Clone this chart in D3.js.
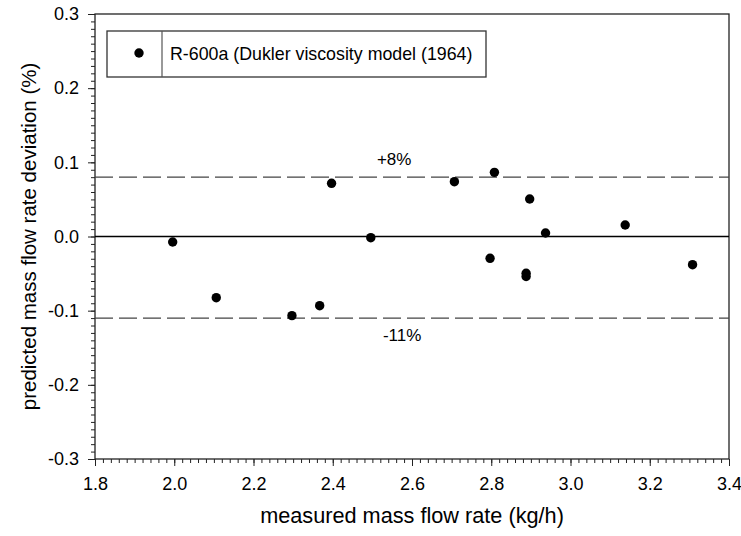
<!DOCTYPE html>
<html>
<head>
<meta charset="utf-8">
<script src="https://cdn.jsdelivr.net/npm/d3@7"></script>
<style>
  body { margin: 0; background: #fff; }
  svg text { font-family: Arial, "Liberation Sans", sans-serif; fill: #000; }
</style>
</head>
<body>
<svg id="chart" width="741" height="536"></svg>
<script>
// measured mass flow rate (kg/h)
const flowRate = [1.996, 2.106, 2.297, 2.367, 2.397, 2.496, 2.707, 2.797, 2.808, 2.888, 2.888, 2.897, 2.937, 3.138, 3.308];
// predicted deviation
const deviation = [-0.0074, -0.0825, -0.1067, -0.0933, 0.0717, -0.0016, 0.0739, -0.0294, 0.0865, -0.0496, -0.054, 0.0506, 0.0047, 0.0155, -0.038];

const xTicks = [1.8, 2.0, 2.2, 2.4, 2.6, 2.8, 3.0, 3.2, 3.4];
const yTicks = [-0.3, -0.2, -0.1, 0.0, 0.1, 0.2, 0.3];
const limits = [0.08, -0.11];
const limitLabels = ['+8%', '-11%'];
const limitLabelX = [2.555, 2.575];
const seriesName = 'R-600a (Dukler viscosity model (1964)';

const margin = {top: 14, right: 12, bottom: 77, left: 95};
const width = 741, height = 536;
const fontFam = 'Arial, "Liberation Sans", sans-serif';

const svg = d3.select('#chart');

const x = d3.scaleLinear()
  .domain([1.8, 3.4])
  .range([margin.left, width - margin.right]);

const y = d3.scaleLinear()
  .domain([-0.3, 0.3])
  .range([height - margin.bottom, margin.top]);

// plain hyphen for negatives, like the original
const fmt = v => v.toFixed(1);

// minor ticks
const xMinor = d3.range(1.8, 3.4001, 0.02).map(v => +v.toFixed(2));
const yMinor = d3.range(-0.3, 0.3001, 0.01).map(v => +v.toFixed(2));

svg.append('g')
  .attr('transform', `translate(0,${y(-0.3)})`)
  .call(d3.axisBottom(x).tickValues(xMinor).tickSize(4).tickFormat(''))
  .call(g => g.select('.domain').remove())
  .selectAll('line').attr('stroke', '#222');

svg.append('g')
  .attr('transform', `translate(${x(1.8)},0)`)
  .call(d3.axisLeft(y).tickValues(yMinor).tickSize(4).tickFormat(''))
  .call(g => g.select('.domain').remove())
  .selectAll('line').attr('stroke', '#222');

// major ticks
const xAxis = svg.append('g')
  .attr('transform', `translate(0,${y(-0.3)})`)
  .call(d3.axisBottom(x).tickValues(xTicks).tickSize(7).tickPadding(11).tickFormat(fmt));
xAxis.select('.domain').remove();
xAxis.selectAll('line').attr('stroke', '#222');
xAxis.selectAll('text').attr('font-size', 18).style('font-family', fontFam);

const yAxis = svg.append('g')
  .attr('transform', `translate(${x(1.8)},0)`)
  .call(d3.axisLeft(y).tickValues(yTicks).tickSize(7).tickPadding(9).tickFormat(fmt));
yAxis.select('.domain').remove();
yAxis.selectAll('line').attr('stroke', '#222');
yAxis.selectAll('text').attr('font-size', 18).style('font-family', fontFam);

// frame
svg.append('rect')
  .attr('x', x(1.8)).attr('y', y(0.3))
  .attr('width', x(3.4) - x(1.8)).attr('height', y(-0.3) - y(0.3))
  .attr('fill', 'none').attr('stroke', '#222').attr('stroke-width', 1.3);

// zero line
svg.append('line')
  .attr('x1', x(1.8)).attr('x2', x(3.4))
  .attr('y1', y(0)).attr('y2', y(0))
  .attr('stroke', '#000').attr('stroke-width', 1.3);

// limit lines
svg.selectAll('.limit')
  .data(limits)
  .join('line')
  .attr('class', 'limit')
  .attr('x1', x(1.8)).attr('x2', x(3.4))
  .attr('y1', d => y(d)).attr('y2', d => y(d))
  .attr('stroke', '#444').attr('stroke-width', 1.2)
  .attr('stroke-dasharray', '18,6');

svg.selectAll('.limit-label')
  .data(limits)
  .join('text')
  .attr('class', 'limit-label')
  .attr('x', (d, i) => x(limitLabelX[i]))
  .attr('y', (d, i) => i === 0 ? y(d) - 12 : y(d) + 23)
  .attr('text-anchor', 'middle')
  .attr('font-size', 17)
  .text((d, i) => limitLabels[i]);

// points
svg.selectAll('.pt')
  .data(flowRate)
  .join('circle')
  .attr('class', 'pt')
  .attr('cx', d => x(d))
  .attr('cy', (d, i) => y(deviation[i]))
  .attr('r', 4.7)
  .attr('fill', '#000');

// legend
const lg = svg.append('g');
lg.append('rect')
  .attr('x', 107).attr('y', 31).attr('width', 379).attr('height', 46)
  .attr('fill', '#fff').attr('stroke', '#333').attr('stroke-width', 1.3);
lg.append('line')
  .attr('x1', 162).attr('x2', 162).attr('y1', 31).attr('y2', 77)
  .attr('stroke', '#555').attr('stroke-width', 1.2);
lg.append('circle')
  .attr('cx', 139).attr('cy', 53).attr('r', 4.7).attr('fill', '#000');
lg.append('text')
  .attr('x', 170).attr('y', 60)
  .attr('font-size', 17.8)
  .text(seriesName);

// axis titles
svg.append('text')
  .attr('x', (x(1.8) + x(3.4)) / 2)
  .attr('y', 523)
  .attr('text-anchor', 'middle')
  .attr('font-size', 21.7)
  .text('measured mass flow rate (kg/h)');

svg.append('text')
  .attr('transform', `translate(36,${(y(0.3) + y(-0.3)) / 2}) rotate(-90)`)
  .attr('text-anchor', 'middle')
  .attr('font-size', 20.5)
  .text('predicted mass flow rate deviation (%)');
</script>
</body>
</html>
